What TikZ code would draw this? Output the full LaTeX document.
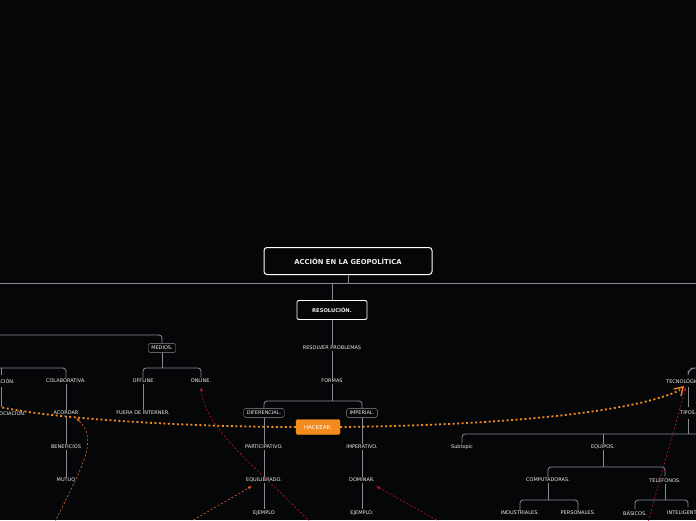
\documentclass[tikz,border=0pt]{standalone}
\usepackage{fontspec}
\setmainfont{DejaVu Sans}
\usetikzlibrary{arrows.meta}
\definecolor{bg}{HTML}{050608}
\definecolor{ln}{HTML}{8A8C90}
\definecolor{hack}{HTML}{F38B1F}
\definecolor{rel}{HTML}{C0104A}
\definecolor{relo}{HTML}{E0662A}
\tikzset{
  topic/.style={text=white!85!gray, font=\fontsize{5}{6}\selectfont, inner sep=1pt},
  boxed/.style={topic, draw=ln, rounded corners=1.5pt, fill=bg, inner xsep=3pt, inner ysep=2.5pt},
  branch/.style={ln, line width=0.8pt, rounded corners=3pt},
  hackline/.style={hack, line width=1.8pt, dash pattern=on 2pt off 2.5pt},
  relline/.style={rel, line width=0.6pt, dash pattern=on 2pt off 2pt, -{Latex[length=4pt,width=3pt]}},
}
\begin{document}
\begin{tikzpicture}[x=1pt,y=-1pt]
\fill[bg] (0,0) rectangle (696,520);
\useasboundingbox (0,0) rectangle (696,520);
\begin{scope}
\clip (0,0) rectangle (696,520);

% root
\node[boxed, font=\bfseries\fontsize{6.8}{7}\selectfont, draw=white, line width=1pt, minimum width=168, minimum height=27, rounded corners=3pt] (root) at (348,261) {ACCIÓN EN LA GEOPOLÍTICA};
\draw[branch] (root.south) -- (348,283);
\draw[branch] (0,283) -- (696,283);

% centre
\node[boxed, font=\bfseries\fontsize{5.2}{6}\selectfont, draw=white, line width=0.9pt, minimum width=70, minimum height=19] (res) at (332,310) {RESOLUCIÓN.};
\draw[branch] (332,283) -- (res.north);
\node[topic] (rp) at (332,348) {RESOLVER PROBLEMAS};
\node[topic] (formas) at (332,381) {FORMAS};
\node[boxed] (dif) at (264,413) {DIFERENCIAL.};
\node[boxed] (imp) at (362,413) {IMPERIAL.};
\draw[branch] (res) -- (rp);
\draw[branch] (rp) -- (formas);
\draw[branch] (formas) -- (332,401);
\draw[branch] (dif.north) |- (332,401) -| (imp.north);
\node[topic] (part) at (264,447) {PARTICIPATIVO.};
\node[topic] (equi) at (264,480) {EQUILIBRADO.};
\node[topic] (ej1) at (264,513) {EJEMPLO};
\node[topic] (impv) at (362,447) {IMPERATIVO.};
\node[topic] (dom) at (362,480) {DOMINAR.};
\node[topic] (ej2) at (362,513) {EJEMPLO.};
\draw[branch] (dif) -- (part);
\draw[branch] (part) -- (equi);
\draw[branch] (equi) -- (ej1);
\draw[branch] (imp) -- (impv);
\draw[branch] (impv) -- (dom);
\draw[branch] (dom) -- (ej2);

% left
\node[boxed] (medios) at (162,348) {MEDIOS.};
\draw[branch] (0,335) -| (medios.north);
\node[topic] (off) at (143,381) {OFFLINE};
\node[topic] (on) at (201,381) {ONLINE.};
\draw[branch] (medios) -- (162,368);
\draw[branch] (off.north) |- (162,368) -| (on.north);
\node[topic] (fuera) at (143,413) {FUERA DE INTERNER.};
\draw[branch] (off) -- (fuera);
\node[topic, anchor=east] (coop) at (16,381) {COOPERACIÓN.};
\node[topic] (colab) at (66,381) {COLABORATIVA.};
\draw[branch] (0,368) -| (colab.north);
\draw[branch] (1,368) -- (1,375);
\node[topic, anchor=east] (nego) at (27,413) {NEGOCIACIÓN.};
\draw[branch] (1,387) -- (1,407);
\node[topic] (acor) at (66,413) {ACORDAR};
\node[topic] (benef) at (66,447) {BENEFICIOS};
\node[topic] (mutuo) at (66,480) {MUTUO};
\draw[branch] (colab) -- (acor);
\draw[branch] (acor) -- (benef);
\draw[branch] (benef) -- (mutuo);

% right
\node[topic, anchor=west] (tec) at (665,381) {TECNOLÓGICA.};
\draw[branch] (696,368) -- (692,368) -- (688,372) -- (688,375);
\node[topic, anchor=west] (tipos) at (679,413) {TIPOS.};
\draw[branch] (688,387) -- (688,407);
\draw[branch] (688,419) -- (688,434);
\node[topic] (sub) at (462,447) {Subtopic};
\node[topic] (equipos) at (603,447) {EQUIPOS.};
\draw[branch] (sub.north) |- (696,434);
\draw[branch] (equipos.north) -- (603,434);
\node[topic] (comp) at (548,480) {COMPUTADORAS.};
\node[topic] (tel) at (665,480) {TELÉFONOS.};
\draw[branch] (equipos) -- (603,467);
\draw[branch] (comp.north) |- (603,467) -| (tel.north);
\node[topic] (ind) at (520,513) {INDUSTRIALES.};
\node[topic] (pers) at (578,513) {PERSONALES.};
\node[topic] (bas) at (635,513) {BÁSICOS.};
\node[topic, anchor=west] (intel) at (666,513) {INTELIGENTES.};
\draw[branch] (comp) -- (548,500);
\draw[branch] (ind.north) |- (548,500) -| (pers.north);
\draw[branch] (tel) -- (665,500);
\draw[branch] (bas.north) |- (665,500) -| (688,507);

% relations
\draw[relline, relo] (55,522) .. controls (80,470) and (100,440) .. (76,418);
\draw[relline, relo] (190,522) -- (252,486);
\draw[relline] (310,522) .. controls (260,470) and (205,430) .. (201,387);
\draw[relline] (440,522) -- (376,486);
\draw[relline] (648,522) -- (686,387);

% hackear
\node[boxed, fill=hack, draw=hack, text=white, font=\fontsize{5.5}{6}\selectfont, minimum width=44, minimum height=15] (hack) at (318,427) {HACKEAR.};
\draw[hackline] (hack.west) .. controls (200,427) and (60,420) .. (0,407);
\draw[hackline] (hack.east) .. controls (520,425) and (640,410) .. (680,390);
\draw[hack, line width=1.4pt] (674,389) -- (683,387) -- (681,396);
\end{scope}
\end{tikzpicture}
\end{document}
